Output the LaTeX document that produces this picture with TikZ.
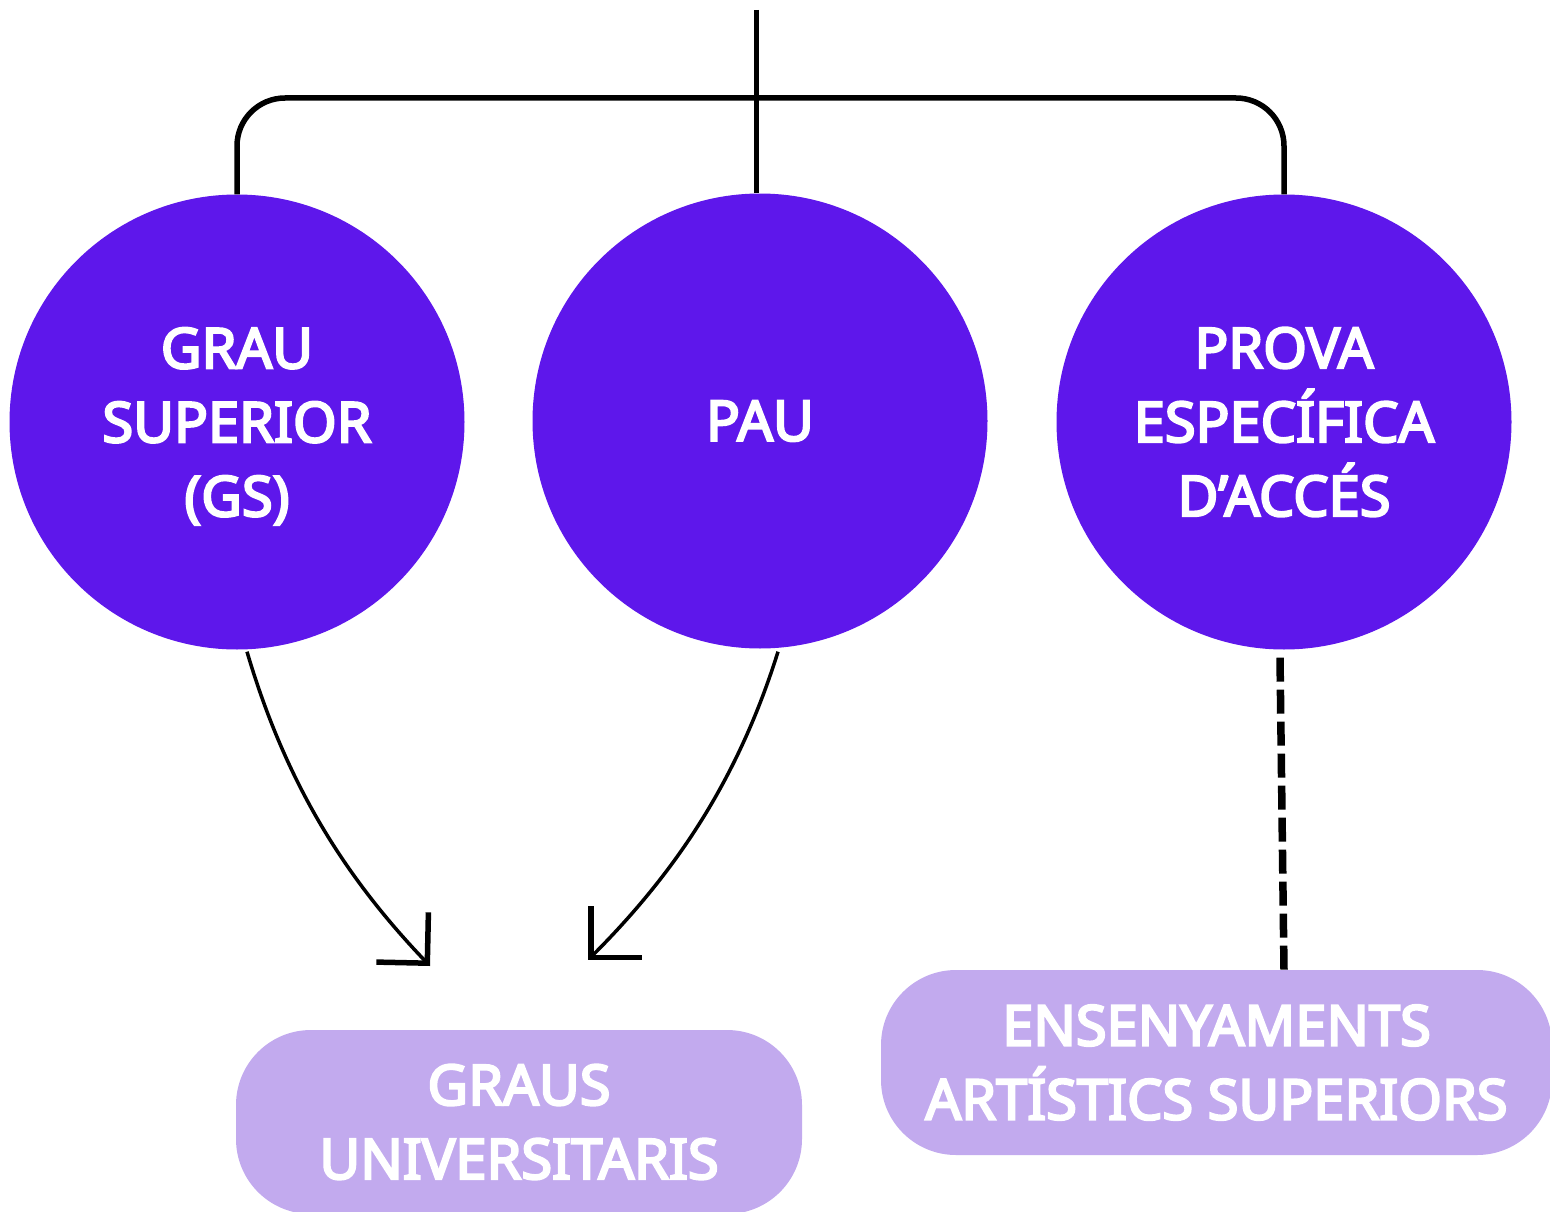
\documentclass[tikz,border=0pt]{standalone}
\usepackage{fontspec}
\setmainfont{Noto Sans}
\newfontfamily\lblfont{Noto Sans}[FakeBold=4]
\usetikzlibrary{arrows.meta,calc}
\definecolor{circfill}{HTML}{5E17EB}
\definecolor{boxfill}{HTML}{C2AAEE}
\tikzset{
  lbl/.style={font=\fontsize{56}{74}\selectfont\lblfont, align=center, text=white, inner sep=0pt},
  bubble/.style={lbl, circle, fill=circfill, minimum size=455pt},
  pill/.style={lbl, rectangle, rounded corners=75pt, fill=boxfill},
  bracket/.style={line width=5.5pt, rounded corners=48pt},
  flow/.style={line width=3.5pt, -{Straight Barb[length=36pt,width=72pt,line width=5.5pt]}},
  dashlink/.style={line width=7.5pt, dash pattern=on 24pt off 8pt}
}
\begin{document}
\begin{tikzpicture}[x=1pt,y=-1pt]
\useasboundingbox (0,0) rectangle (1550,1212);
\node[bubble, text depth=0pt] (c1) at (237,422) {GRAU\\SUPERIOR\\(GS)};
\node[bubble] (c2) at (760,421) {PAU};
\node[bubble] (c3) at (1284,422) {PROVA\\ESPECÍFICA\\D’ACCÉS};
\node[pill, minimum width=566pt, minimum height=184pt] (b1) at (519,1122) {GRAUS\\UNIVERSITARIS};
\node[pill, minimum width=671pt, minimum height=185pt] (b2) at (1216.5,1062.5) {ENSENYAMENTS\\ARTÍSTICS SUPERIORS};
\coordinate (top) at (756.5,10);
\coordinate (hbar) at (0,98);
\draw[line width=5.5pt] (top) -- (top |- c2.north);
\draw[bracket] (c1.north) -- (c1.north |- hbar) -- (c3.north |- hbar) -- (c3.north);
\coordinate (s1) at ($(c1.south)+(10,2)$);
\coordinate (e1) at (430,966);
\coordinate (s2) at ($(c2.south)+(18,3)$);
\coordinate (e2) at (588,960);
\draw[flow] (s1) .. controls (284,777) and (340,872) .. (e1);
\draw[flow] (s2) .. controls (739,776) and (679,869) .. (e2);
\draw[dashlink] ($(c3.south)+(-4,8)$) -- (c3.south |- b2.north);
\end{tikzpicture}
\end{document}
